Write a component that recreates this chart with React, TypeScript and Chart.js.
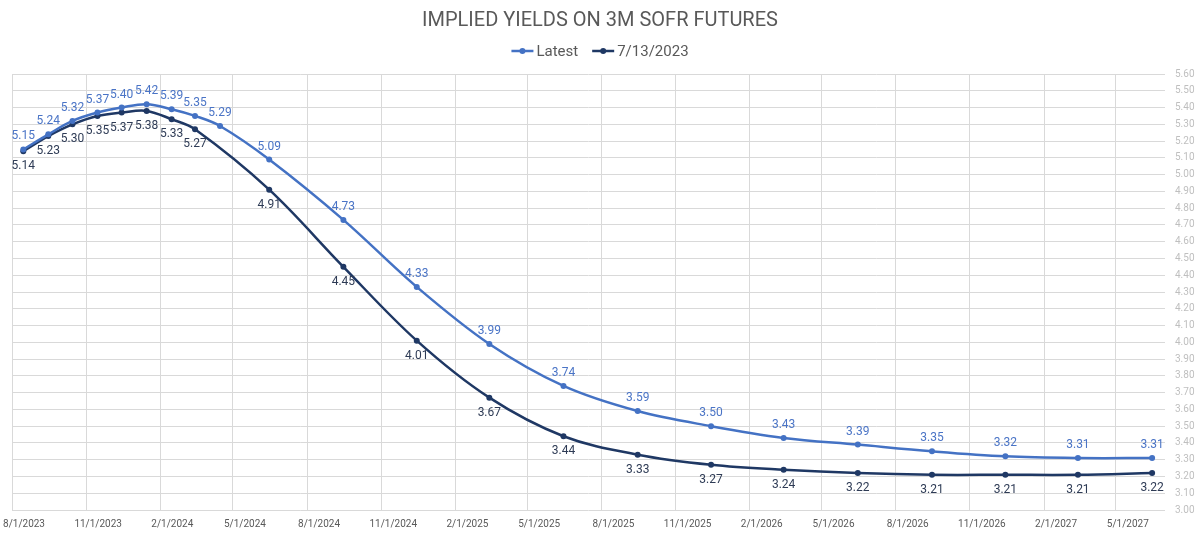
import React, { useEffect, useRef } from 'react';
import { Chart, registerables } from 'chart.js';

Chart.register(...registerables);

const chartTitle = 'IMPLIED YIELDS ON 3M SOFR FUTURES';
const seriesNames = ['Latest', '7/13/2023'];
const seriesColors = ['#4472C4', '#1F3864'];
const labelColors = ['#4A74C6', '#2E3B55'];

const contractDates = [
  '2023-08-15', '2023-09-15', '2023-10-15', '2023-11-15', '2023-12-15',
  '2024-01-15', '2024-02-15', '2024-03-15', '2024-04-15', '2024-06-15',
  '2024-09-15', '2024-12-15', '2025-03-15', '2025-06-15', '2025-09-15',
  '2025-12-15', '2026-03-15', '2026-06-15', '2026-09-15', '2026-12-15',
  '2027-03-15', '2027-06-15',
];

const latestYields = [
  5.15, 5.24, 5.32, 5.37, 5.40, 5.42, 5.39, 5.35, 5.29, 5.09, 4.73, 4.33,
  3.99, 3.74, 3.59, 3.50, 3.43, 3.39, 3.35, 3.32, 3.31, 3.31,
];

const priorYields = [
  5.14, 5.23, 5.30, 5.35, 5.37, 5.38, 5.33, 5.27, null, 4.91, 4.45, 4.01,
  3.67, 3.44, 3.33, 3.27, 3.24, 3.22, 3.21, 3.21, 3.21, 3.22,
];

const xTickLabels = [
  '8/1/2023', '11/1/2023', '2/1/2024', '5/1/2024', '8/1/2024', '11/1/2024',
  '2/1/2025', '5/1/2025', '8/1/2025', '11/1/2025', '2/1/2026', '5/1/2026',
  '8/1/2026', '11/1/2026', '2/1/2027', '5/1/2027',
];
const xAxisEnd = '7/1/2027';
const yAxisMin = 3.0;
const yAxisMax = 5.6;
const yAxisStep = 0.1;

function toDay(s: string): number {
  let y: number, m: number, d: number;
  if (s.includes('/')) {
    const p = s.split('/').map(Number);
    m = p[0]; d = p[1]; y = p[2];
  } else {
    const p = s.split('-').map(Number);
    y = p[0]; m = p[1]; d = p[2];
  }
  return Date.UTC(y, m - 1, d) / 86400000;
}

const FONT = 'Roboto, "Noto Sans", sans-serif';
const GRID = '#D9D9D9';

const overlayPlugin = {
  id: 'overlay',
  afterDatasetsDraw(chart: any) {
    const ctx = chart.ctx;
    ctx.save();
    ctx.font = `12px ${FONT}`;
    ctx.textAlign = 'center';
    ctx.textBaseline = 'middle';
    chart.data.datasets.forEach((ds: any, di: number) => {
      const meta = chart.getDatasetMeta(di);
      ctx.fillStyle = labelColors[di];
      meta.data.forEach((pt: any, i: number) => {
        const v = ds.data[i]?.y;
        if (v === null || v === undefined) return;
        const dy = di === 0 ? -13 : 15;
        ctx.fillText(Number(v).toFixed(2), pt.x, pt.y + dy);
      });
    });
    ctx.restore();
  },
  afterDraw(chart: any) {
    const ctx = chart.ctx;
    const cx = chart.width / 2;
    ctx.save();
    ctx.fillStyle = '#595959';
    ctx.textAlign = 'center';
    ctx.textBaseline = 'middle';
    ctx.font = `20px ${FONT}`;
    ctx.fillText(chartTitle, cx, 21);

    // legend
    ctx.font = `15px ${FONT}`;
    const markerW = 22;
    const gap = 3;
    const spacing = 14;
    const widths = seriesNames.map((n) => markerW + gap + ctx.measureText(n).width);
    const total = widths.reduce((a, b) => a + b, 0) + spacing * (seriesNames.length - 1);
    let x = cx - total / 2;
    const y = 51;
    seriesNames.forEach((n, i) => {
      ctx.strokeStyle = seriesColors[i];
      ctx.lineWidth = 2.5;
      ctx.beginPath();
      ctx.moveTo(x, y);
      ctx.lineTo(x + markerW, y);
      ctx.stroke();
      ctx.fillStyle = seriesColors[i];
      ctx.beginPath();
      ctx.arc(x + markerW / 2, y, 3, 0, Math.PI * 2);
      ctx.fill();
      ctx.fillStyle = '#595959';
      ctx.textAlign = 'left';
      ctx.fillText(n, x + markerW + gap, y + 1);
      x += widths[i] + spacing;
    });
    ctx.restore();
  },
};

export default function App() {
  const canvasRef = useRef<HTMLCanvasElement | null>(null);

  useEffect(() => {
    const canvas = canvasRef.current;
    if (!canvas) return;
    const xs = contractDates.map(toDay);
    const chart = new Chart(canvas, {
      type: 'line',
      data: {
        datasets: [
          {
            label: seriesNames[0],
            data: xs.map((x, i) => ({ x, y: latestYields[i] })),
            borderColor: seriesColors[0],
            backgroundColor: seriesColors[0],
            borderWidth: 2.5,
            pointRadius: 3,
            pointBorderWidth: 0,
            tension: 0.35,
          },
          {
            label: seriesNames[1],
            data: xs.map((x, i) => ({ x, y: priorYields[i] })),
            borderColor: seriesColors[1],
            backgroundColor: seriesColors[1],
            borderWidth: 2.5,
            pointRadius: 3,
            pointBorderWidth: 0,
            tension: 0.35,
            spanGaps: true,
          },
        ],
      } as any,
      options: {
        responsive: false,
        animation: false,
        layout: { padding: { top: 74, left: 12, right: 0, bottom: 0 } },
        plugins: {
          legend: { display: false },
          title: { display: false },
          tooltip: { enabled: false },
        },
        scales: {
          x: {
            type: 'linear',
            min: toDay(xTickLabels[0]),
            max: toDay(xAxisEnd),
            afterBuildTicks: (s: any) => {
              s.ticks = xTickLabels.map((l) => ({ value: toDay(l) }));
            },
            afterFit: (s: any) => {
              s.height = 25;
              s.paddingLeft = 0;
              s.paddingRight = 0;
            },
            ticks: {
              autoSkip: false,
              maxRotation: 0,
              minRotation: 0,
              labelOffset: 12,
              padding: 8,
              color: '#595959',
              font: { family: FONT, size: 10 },
              callback: (_v: any, i: number) => xTickLabels[i],
            },
            grid: { color: GRID, lineWidth: 1, drawTicks: false },
            border: { display: false },
          },
          y: {
            position: 'right',
            min: yAxisMin,
            max: yAxisMax,
            afterFit: (s: any) => {
              s.width = 35;
              s.paddingTop = 0;
              s.paddingBottom = 0;
            },
            ticks: {
              stepSize: yAxisStep,
              padding: 10,
              color: '#BFBFBF',
              font: { family: FONT, size: 10 },
              callback: (v: any) => Number(v).toFixed(2),
            },
            grid: { color: GRID, lineWidth: 1, drawTicks: false },
            border: { display: false },
          },
        },
      } as any,
      plugins: [overlayPlugin],
    });
    return () => chart.destroy();
  }, []);

  return (
    <div style={{ position: 'fixed', left: 0, top: 0, width: 1200, height: 535, background: '#fff' }}>
      <canvas ref={canvasRef} width={1200} height={535} style={{ display: 'block' }} />
    </div>
  );
}
